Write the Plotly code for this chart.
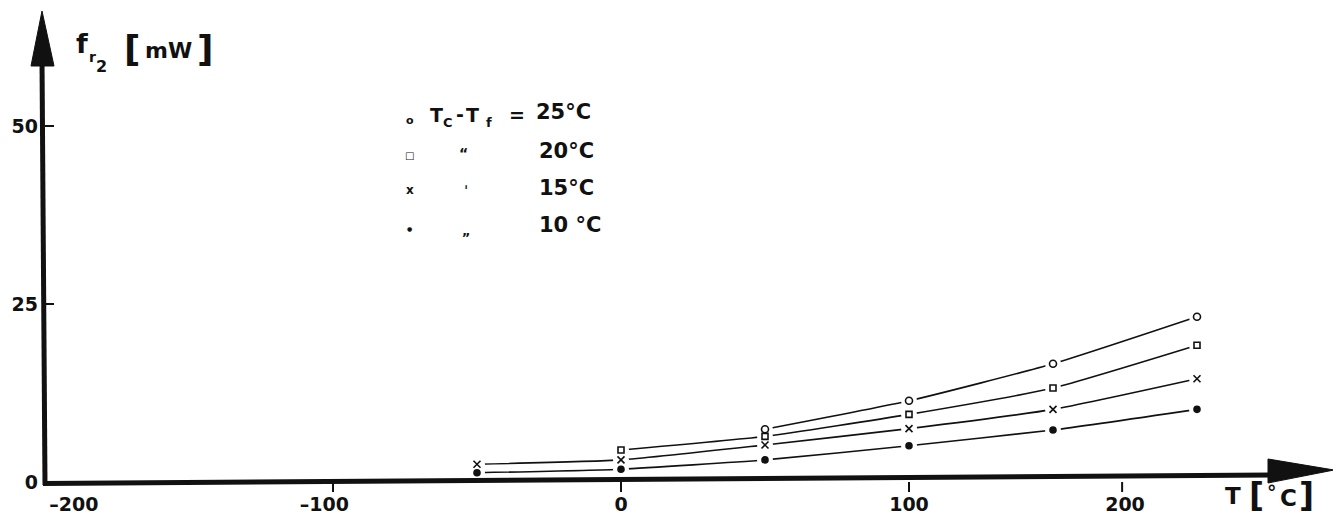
import plotly.graph_objects as go

# ---------------- data ----------------
T_points = [-50, 0, 50, 100, 150, 200]          # T [°C]
fr2_25 = [None, None, 7.4, 11.4, 16.6, 23.2]    # Tc - Tf = 25 °C
fr2_20 = [None, 4.5, 6.4, 9.5, 13.2, 19.2]      # Tc - Tf = 20 °C
fr2_15 = [2.5, 3.1, 5.2, 7.5, 10.2, 14.5]       # Tc - Tf = 15 °C
fr2_10 = [1.3, 1.8, 3.1, 5.1, 7.3, 10.2]        # Tc - Tf = 10 °C

series_names = ["25 °C", "20 °C", "15 °C", "10 °C"]
x_tick_labels = ["–200", "–100", "0", "100", "200"]
x_tick_label_pos = [-190, -103, 0, 100, 175]
x_tick_marks = [-100, 0, 100, 174]
y_tick_vals = [0, 25, 50]
y_tick_labels = ["0", "25", "50"]

# ---------------- geometry helpers ----------------
# the page body has an 8 px margin, so the figure is offset by 8 px
OFF = 8
W, H = 1341 - OFF, 524 - OFF
ML, MR, MT, MB = 37, 0, 4, 42
PW, PH = W - ML - MR, H - MT - MB
PAGE_L, PAGE_B = ML + OFF, OFF + MT + PH   # plot area edges in page pixels


def px(xp):
    return (xp - PAGE_L) / PW


def py(yp):
    return (PAGE_B - yp) / PH


FONT = "DejaVu Sans"
BLACK = "#111111"

fig = go.Figure()

series = [fr2_25, fr2_20, fr2_15, fr2_10]
symbols = ["circle-open", "square-open", "x-thin-open", "circle"]
sizes = [7, 6, 7, 6]

# curves
for vals, name in zip(series, series_names):
    fig.add_trace(go.Scatter(
        x=T_points, y=vals, mode="lines", name=name,
        line=dict(color=BLACK, width=1.6, shape="spline", smoothing=0.5),
        connectgaps=False, hoverinfo="skip"))

# white masks to create the small gaps around the points
for vals in series:
    fig.add_trace(go.Scatter(
        x=T_points, y=vals, mode="markers",
        marker=dict(symbol="circle", size=16, color="white",
                    line=dict(width=0)),
        hoverinfo="skip"))

# point markers
for vals, sym, sz, name in zip(series, symbols, sizes, series_names):
    fig.add_trace(go.Scatter(
        x=T_points, y=vals, mode="markers", name=name,
        marker=dict(symbol=sym, size=sz, color=BLACK,
                    line=dict(color=BLACK, width=1.6))))

shapes = []
# x axis line with arrow head
shapes.append(dict(type="path", xref="paper", yref="paper",
                   path=f"M {px(43)},{py(483.5)} L {px(1275)},{py(475)}",
                   line=dict(color=BLACK, width=5)))
shapes.append(dict(type="path", xref="paper", yref="paper",
                   path=(f"M {px(1268)},{py(459)} L {px(1334)},{py(470)} "
                         f"L {px(1268)},{py(483)} Z"),
                   fillcolor=BLACK, line=dict(color=BLACK, width=1)))
# y axis line with arrow head
shapes.append(dict(type="path", xref="paper", yref="paper",
                   path=f"M {px(45)},{py(485)} L {px(42)},{py(60)}",
                   line=dict(color=BLACK, width=5)))
shapes.append(dict(type="path", xref="paper", yref="paper",
                   path=(f"M {px(42)},{py(11)} L {px(54)},{py(66)} "
                         f"L {px(31)},{py(66)} Z"),
                   fillcolor=BLACK, line=dict(color=BLACK, width=1)))
# x tick marks
for v in x_tick_marks:
    shapes.append(dict(type="line", xref="x", yref="paper",
                       x0=v, x1=v, y0=py(482), y1=py(492),
                       line=dict(color=BLACK, width=2)))

ann = []


def text(xp, yp, s, size, bold=True):
    ann.append(dict(x=px(xp), y=py(yp), xref="paper", yref="paper",
                    text=s, showarrow=False, xanchor="center",
                    yanchor="middle",
                    font=dict(family=FONT, size=size, color=BLACK,
                              weight="bold" if bold else "normal")))


# y axis title  f_{r_2} [mW]
text(82, 43, "f", 27)
text(92, 57, "r", 14)
text(101, 66, "2", 16)
text(132, 48, "[", 36)
text(168, 50, "mW", 22)
text(205, 48, "]", 36)

# x axis title  T [°C]
text(1233, 496, "T", 23)
text(1256, 496, "[", 33)
text(1272, 492, "°", 19)
text(1288, 498, "C", 23)
text(1306, 496, "]", 33)

# legend block
text(410, 120, "o", 11)
text(436, 115, "T", 19)
text(448, 122, "C", 13)
text(460, 114, "-", 19)
text(472, 115, "T", 19)
text(489, 123, "f", 13)
text(517, 115, "=", 19)
text(563, 112, "25°C", 21)

text(410, 155, "□", 10)
text(463, 153, "“", 14)
text(566, 151, "20°C", 21)

text(410, 190, "x", 12)
text(466, 191, "ˈ", 14)
text(566, 188, "15°C", 21)

text(410, 228, "●", 6)
text(466, 230, "„", 13)
text(570, 225, "10 °C", 21)

fig.update_layout(
    width=W, height=H,
    margin=dict(l=ML, r=MR, t=MT, b=MB, autoexpand=False),
    paper_bgcolor="white", plot_bgcolor="white",
    showlegend=False,
    shapes=shapes, annotations=ann,
    xaxis=dict(range=[-200, 250], showgrid=False, zeroline=False,
               showline=False, tickvals=x_tick_label_pos,
               ticktext=x_tick_labels, ticks="", automargin=False,
               ticklabelstandoff=9,
               tickfont=dict(family=FONT, size=19, color=BLACK,
                             weight="bold")),
    yaxis=dict(range=[0, 66], showgrid=False, zeroline=False,
               showline=False, tickvals=y_tick_vals, automargin=False,
               ticktext=y_tick_labels, ticks="inside", ticklen=9,
               tickwidth=2, tickcolor=BLACK, ticklabelstandoff=6,
               tickfont=dict(family=FONT, size=19, color=BLACK,
                             weight="bold")),
)

fig.write_html("out.html")
